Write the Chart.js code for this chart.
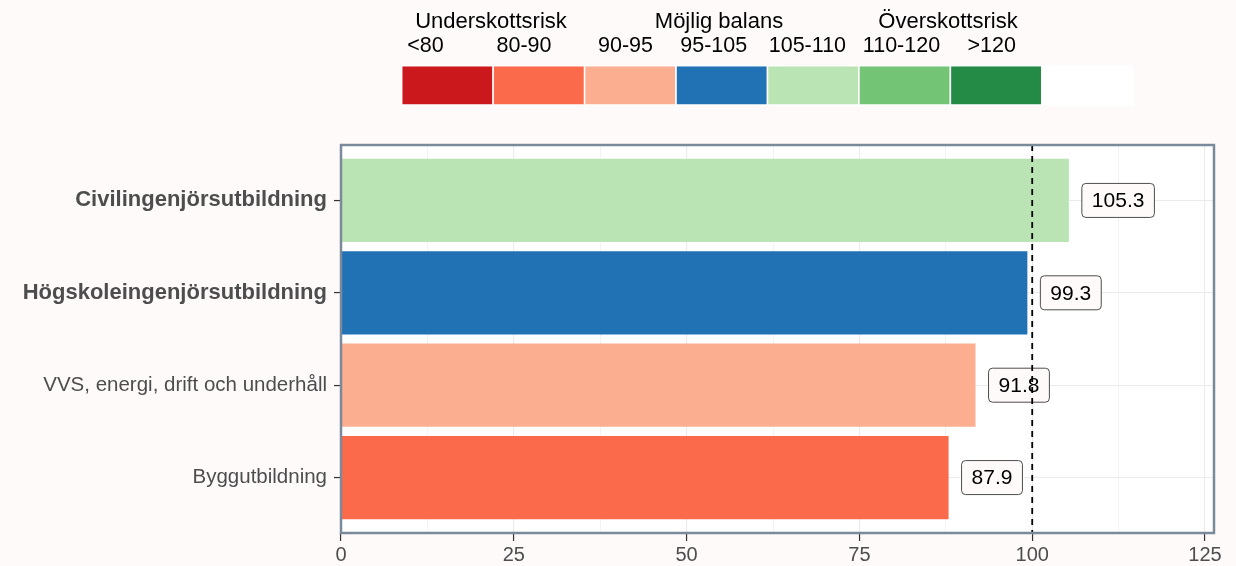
<!DOCTYPE html>
<html>
<head>
<meta charset="utf-8">
<script src="https://cdn.jsdelivr.net/npm/chart.js@4"></script>
<style>
  html, body { margin: 0; padding: 0; background: #fffafa; }
</style>
</head>
<body>
<canvas id="canvas" width="1236" height="566"></canvas>
<script>
// Données du graphique
const categories = ['Civilingenjörsutbildning', 'Högskoleingenjörsutbildning', 'VVS, energi, drift och underhåll', 'Byggutbildning'];
const values = [105.3, 99.3, 91.8, 87.9];
const boldCategories = [true, true, false, false];
const binLabels = ['<80', '80-90', '90-95', '95-105', '105-110', '110-120', '>120'];
const binLimits = [80, 90, 95, 105, 110, 120, Infinity];
const binColors = ['#cb181d', '#fb6a4a', '#fcae91', '#2171b5', '#bae4b3', '#74c476', '#238b45'];
const groupTitles = ['Underskottsrisk', 'Möjlig balans', 'Överskottsrisk'];
const xTicks = [0, 25, 50, 75, 100, 125];
const refLine = 100;

const FONT = '"Liberation Sans", Arial, sans-serif';

/**
 * Couleur de la classe à laquelle appartient une valeur.
 */
function binColor(v) {
    for (let i = 0; i < binLimits.length; i++) {
        if (v < binLimits[i]) return binColors[i];
    }
    return binColors[binColors.length - 1];
}

function roundRect(ctx, x, y, w, h, r) {
    ctx.beginPath();
    ctx.moveTo(x + r, y);
    ctx.arcTo(x + w, y, x + w, y + h, r);
    ctx.arcTo(x + w, y + h, x, y + h, r);
    ctx.arcTo(x, y + h, x, y, r);
    ctx.arcTo(x, y, x + w, y, r);
    ctx.closePath();
}

const panelPlugin = {
    id: 'panel',
    beforeDraw(chart) {
        const ctx = chart.ctx;
        const a = chart.chartArea;
        ctx.save();
        ctx.fillStyle = '#fffafa';
        ctx.fillRect(0, 0, chart.width, chart.height);
        ctx.fillStyle = '#ffffff';
        ctx.fillRect(a.left, a.top, a.right - a.left, a.bottom - a.top);
        ctx.restore();
    },
    afterDatasetsDraw(chart) {
        const ctx = chart.ctx;
        const a = chart.chartArea;
        const meta = chart.getDatasetMeta(0);
        ctx.save();
        // étiquettes de valeurs
        ctx.font = '21px ' + FONT;
        ctx.textBaseline = 'middle';
        ctx.textAlign = 'center';
        meta.data.forEach((bar, i) => {
            const text = values[i].toFixed(1);
            const w = ctx.measureText(text).width + 20;
            const h = 34;
            const x = bar.x + 13;
            roundRect(ctx, x, bar.y - h / 2, w, h, 4);
            ctx.fillStyle = '#fffafa';
            ctx.fill();
            ctx.lineWidth = 1;
            ctx.strokeStyle = '#4d4d4d';
            ctx.stroke();
            ctx.fillStyle = '#000000';
            ctx.fillText(text, x + w / 2, bar.y + 1);
        });
        // ligne de référence
        const xr = chart.scales.x.getPixelForValue(refLine);
        ctx.beginPath();
        ctx.setLineDash([6, 5]);
        ctx.lineWidth = 1.8;
        ctx.strokeStyle = '#000000';
        ctx.moveTo(xr, a.top);
        ctx.lineTo(xr, a.bottom);
        ctx.stroke();
        ctx.setLineDash([]);
        // cadre du panneau
        ctx.lineWidth = 2.5;
        ctx.strokeStyle = '#7a8a9a';
        ctx.strokeRect(a.left, a.top, a.right - a.left, a.bottom - a.top);
        ctx.restore();
    },
    afterDraw(chart) {
        const ctx = chart.ctx;
        ctx.save();
        // légende en couleurs
        const left = 401.7, top = 65.7, bw = 91.45, bh = 39.3;
        for (let i = 0; i <= binColors.length; i++) {
            ctx.fillStyle = i < binColors.length ? binColors[i] : '#ffffff';
            ctx.fillRect(left + i * bw, top, bw, bh);
            ctx.lineWidth = 1.5;
            ctx.strokeStyle = '#ffffff';
            ctx.strokeRect(left + i * bw, top, bw, bh);
        }
        ctx.fillStyle = '#000000';
        ctx.textBaseline = 'alphabetic';
        ctx.textAlign = 'center';
        ctx.font = '22px ' + FONT;
        const titleX = [491, 719, 948];
        groupTitles.forEach((t, i) => ctx.fillText(t, titleX[i], 27.5));
        ctx.font = '21.5px ' + FONT;
        const labelX = [425.5, 524, 625.5, 713.7, 807.4, 901.5, 991.7];
        binLabels.forEach((t, i) => ctx.fillText(t, labelX[i], 51.7));
        ctx.restore();
    }
};

function createGraph() {
    const data = {
        datasets: [{
            data: values.map((v, i) => ({ x: v, y: i })),
            backgroundColor: values.map(binColor),
            borderWidth: 0,
            barPercentage: 0.9,
            categoryPercentage: 1
        }]
    };

    const config = {
        type: 'bar',
        data: data,
        plugins: [panelPlugin],
        options: {
            indexAxis: 'y',
            responsive: false,
            animation: false,
            devicePixelRatio: 1,
            layout: { padding: { left: 0, right: 22, top: 145, bottom: 0 } },
            plugins: {
                legend: { display: false },
                tooltip: { enabled: false }
            },
            scales: {
                x: {
                    type: 'linear',
                    min: 0,
                    max: 126.3,
                    afterBuildTicks: (axis) => {
                        const t = [];
                        for (let v = 0; v <= 125; v += 12.5) t.push({ value: v });
                        axis.ticks = t;
                    },
                    afterFit: (axis) => { axis.height = 33; },
                    border: { display: false },
                    grid: {
                        color: '#ebebeb',
                        lineWidth: (c) => xTicks.includes(c.tick.value) ? 1.1 : 0.6,
                        tickColor: (c) => xTicks.includes(c.tick.value) ? '#333333' : 'rgba(0,0,0,0)',
                        tickWidth: 1.2,
                        tickLength: 8
                    },
                    ticks: {
                        autoSkip: false,
                        maxRotation: 0,
                        padding: 2,
                        color: '#4d4d4d',
                        font: { family: FONT, size: 20 },
                        callback: (v) => xTicks.includes(v) ? String(v) : ''
                    }
                },
                y: {
                    type: 'linear',
                    min: -0.6,
                    max: 3.6,
                    reverse: true,
                    offset: false,
                    afterBuildTicks: (axis) => {
                        axis.ticks = categories.map((c, i) => ({ value: i }));
                    },
                    afterFit: (axis) => { axis.width = 341; },
                    border: { display: false },
                    grid: {
                        offset: false,
                        color: '#ebebeb',
                        lineWidth: 1.1,
                        tickColor: '#333333',
                        tickWidth: 1.2,
                        tickLength: 7
                    },
                    ticks: {
                        autoSkip: false,
                        padding: 7,
                        color: '#4d4d4d',
                        font: (c) => ({
                            family: FONT,
                            size: boldCategories[c.index] ? 22 : 20.5,
                            weight: boldCategories[c.index] ? 'bold' : 'normal'
                        }),
                        callback: (v) => categories[v]
                    }
                }
            }
        }
    };

    new Chart(document.getElementById('canvas'), config);
}

createGraph();
</script>
</body>
</html>
